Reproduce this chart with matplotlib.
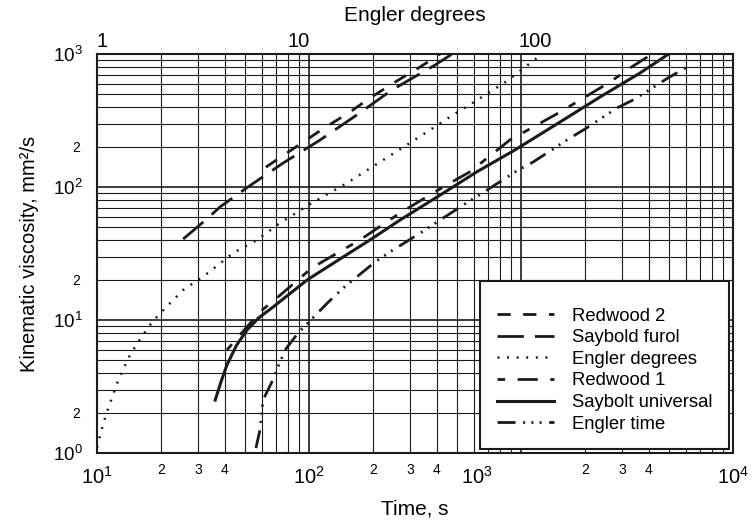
import matplotlib
matplotlib.use("Agg")
import matplotlib.pyplot as plt
from matplotlib.transforms import ScaledTranslation

plt.rcParams["font.family"] = ["Liberation Sans", "DejaVu Sans"]
plt.rcParams["mathtext.fontset"] = "custom"
plt.rcParams["mathtext.rm"] = "Liberation Sans"
plt.rcParams["mathtext.it"] = "Liberation Sans:italic"
plt.rcParams["lines.scale_dashes"] = False

INK = "#1b1b1b"

# viscosity conversion curves: efflux time [s] -> kinematic viscosity [mm2/s]
redwood2_t = [62.6, 116, 156, 194, 255, 334, 415]
redwood2_nu = [141, 273, 366, 467, 616, 798, 1000]

furol_t = [25.5, 33.4, 38.0, 49.9, 75.3, 113, 168, 246, 393, 473]
furol_nu = [40.6, 58.5, 70.7, 96.6, 151, 226, 348, 536, 826, 1000]

engler_deg_t = [10.0, 10.6, 11.1, 11.8, 12.6, 14.3, 16.0, 18.2, 21.4, 25.5, 33.4,
                43.9, 56.9, 73.0, 103, 148, 205, 299, 462, 655, 859, 1189, 1256]
engler_deg_nu = [1.1, 1.57, 2.0, 2.64, 3.54, 5.46, 7.2, 9.66, 12.7, 16.8, 22.6,
                 31.9, 40.0, 53.6, 75.8, 105, 146, 214, 336, 475, 627, 933, 1000]

redwood1_t = [41.0, 58.7, 75.3, 103, 136, 174, 269, 310, 462, 574, 887, 1446,
              1800, 2632, 3268, 4150]
redwood1_nu = [5.95, 11.5, 16.0, 24.6, 31.9, 40.0, 63.8, 73.2, 107, 130, 226, 348,
               428, 616, 785, 1000]

saybolt_t = [36.1, 38.5, 41.0, 45.5, 51.0, 58.0, 67.6, 98.0, 145, 194, 269, 402,
             619, 937, 1528, 2360, 3640, 4970]
saybolt_nu = [2.50, 3.45, 4.59, 6.45, 8.41, 10.4, 12.5, 20.0, 29.8, 40.0, 56.5,
              84.1, 130, 190, 308, 475, 719, 1000]

engler_time_t = [56.2, 58.7, 60.7, 66.8, 77.1, 88.8, 122, 145, 205, 241, 341, 402,
                 562, 692, 968, 1140, 1649, 2004, 2838, 3451, 4932, 6067]
engler_time_nu = [1.09, 1.49, 2.50, 3.42, 5.95, 7.98, 13.4, 17.4, 27.3, 32.5, 45.9,
                  54.6, 77.1, 94.9, 134, 154, 226, 273, 393, 459, 660, 798]

# tick labelling
x_major = [10, 100, 1000, 10000]
x_major_labels = [r"$10^1$", r"$10^2$", r"$10^3$", r"$10^4$"]
y_major = [1, 10, 100, 1000]
y_major_labels = [r"$10^0$", r"$10^1$", r"$10^2$", r"$10^3$"]
minor_digits = ["2", "3", "4", "", "", "", "", ""]
y_minor_digits = ["2", "", "", "", "", "", "", ""]

# Engler degree marks along the top, placed at their efflux times
engler_top_t = [10.56, 89.8, 1164]
engler_top_labels = ["1", "10", "100"]

fig = plt.figure(figsize=(7.55, 5.23), dpi=100)
ax = fig.add_axes([97 / 755, 70 / 523, 636 / 755, 399 / 523])
ax.set_xscale("log")
ax.set_yscale("log")
ax.set_xlim(10, 10000)
ax.set_ylim(1, 1000)

lw = 2.0
ax.plot(redwood2_t, redwood2_nu, color=INK, lw=lw, ls=(0, (9.5, 9.0)),
        label="Redwood 2")
ax.plot(furol_t, furol_nu, color=INK, lw=lw, ls=(0, (19, 8)),
        label="Saybold furol")
ax.plot(engler_deg_t, engler_deg_nu, color=INK, lw=1.8, ls=(0, (1.4, 5.5)),
        label="Engler degrees")
ax.plot(redwood1_t, redwood1_nu, color=INK, lw=lw,
        ls=(0, (5.5, 9.0, 14.5, 9.0)), label="Redwood 1")
ax.plot(saybolt_t, saybolt_nu, color=INK, lw=2.2, ls="-",
        label="Saybolt universal")
ax.plot(engler_time_t, engler_time_nu, color=INK, lw=lw,
        ls=(0, (13, 5.5, 1.4, 4.5, 1.4, 4.5, 1.4, 5.5)), label="Engler time")

# dense log grid on both axes
minor_x = [m * d for d in (10, 100, 1000) for m in range(2, 10)]
minor_y = [m * d for d in (1, 10, 100) for m in range(2, 10)]
ax.set_xticks(x_major)
ax.set_xticklabels(x_major_labels)
ax.set_xticks(minor_x, minor=True)
ax.set_xticklabels(minor_digits * 3, minor=True)
ax.set_yticks(y_major)
ax.set_yticklabels(y_major_labels)
ax.set_yticks(minor_y, minor=True)
ax.set_yticklabels(y_minor_digits * 3, minor=True)

ax.grid(True, which="major", color=INK, lw=1.2)
ax.grid(True, which="minor", color=INK, lw=0.8)
ax.set_axisbelow(True)

ax.tick_params(axis="x", which="major", length=0, pad=9.5, labelsize=14.5)
ax.tick_params(axis="x", which="minor", length=0, pad=7, labelsize=10)
ax.tick_params(axis="y", which="major", length=0, pad=10, labelsize=13.5)
ax.tick_params(axis="y", which="minor", length=0, pad=12, labelsize=10)
for s in ax.spines.values():
    s.set_linewidth(1.5)
    s.set_color(INK)

# the 10^3 label sits left of its grid line
for tick in ax.xaxis.get_major_ticks():
    if tick.get_loc() == 1000:
        tick.label1.set_transform(tick.label1.get_transform()
                                  + ScaledTranslation(-0.44, 0, fig.dpi_scale_trans))

ax.set_xlabel("Time, s", fontsize=15, labelpad=8)
ax.set_ylabel("Kinematic viscosity, mm²/s", fontsize=14.5, labelpad=10)

top = ax.twiny()
top.set_xscale("log")
top.set_xlim(ax.get_xlim())
top.set_xticks(engler_top_t)
top.set_xticklabels(engler_top_labels)
top.xaxis.set_minor_locator(matplotlib.ticker.NullLocator())
top.tick_params(axis="x", length=0, pad=2, labelsize=14.5)
top.set_xlabel("Engler degrees", fontsize=15, labelpad=8)
for s in top.spines.values():
    s.set_visible(False)

# blank title row leaves the empty band above the entries
leg = ax.legend(loc="lower right", bbox_to_anchor=(1.0, 0.0), borderaxespad=0.2,
                fontsize=13.3, handlelength=3.1, handletextpad=0.97,
                borderpad=0.9, labelspacing=0.25, fancybox=False, framealpha=1,
                title=" ", title_fontsize=4)
leg.get_frame().set_edgecolor(INK)
leg.get_frame().set_linewidth(1.5)

fig.savefig("out.png", dpi=100)
